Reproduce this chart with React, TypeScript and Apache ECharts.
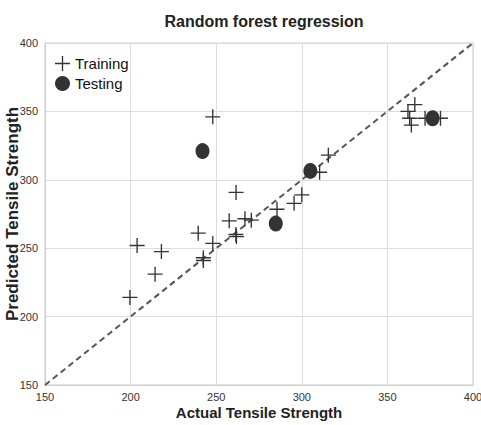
import React, { useEffect, useRef } from "react";
import * as echarts from "echarts";

const trainingActual = [199.6, 203.8, 218, 214.3, 239.5, 242.5, 242.5, 248, 248, 257.6, 261.6, 261.8, 261.5, 266.8, 270.5, 285.5, 295.5, 300, 310.4, 315.5, 366, 362, 363, 364, 372, 381];
const trainingPredicted = [214, 252, 247.5, 231, 261, 243, 241, 253.5, 346, 270, 290.8, 258.5, 260, 271.5, 270.5, 278.5, 282.8, 289, 305.5, 318, 355, 350, 345, 340, 345, 345];
const testingActual = [242, 284.8, 305, 376.4];
const testingPredicted = [321, 268, 306.5, 345];
const axisMin = 150;
const axisMax = 400;
const axisStep = 50;

const crossPath = "path://M0,4.55h10v0.9h-10z M4.55,0h0.9v10h-0.9z";

export default function App() {
  const ref = useRef<HTMLDivElement>(null);
  useEffect(() => {
    const chart = echarts.init(ref.current!, null, { renderer: "svg" });
    const axisCommon = {
      type: "value",
      min: axisMin,
      max: axisMax,
      interval: axisStep,
      axisLine: { show: true, lineStyle: { color: "#cccccc", width: 1 } },
      axisTick: { show: false },
      splitLine: { show: true, lineStyle: { color: "#dcdcdc", width: 1 } },
      axisLabel: { color: "#333", fontSize: 11, fontFamily: "Liberation Sans, Arial, sans-serif" },
      nameLocation: "middle",
      nameMoveOverlap: false,
      nameTextStyle: { color: "#222", fontSize: 15, fontWeight: "bold", fontFamily: "Liberation Sans, Arial, sans-serif" },
    };
    chart.setOption({
      animation: false,
      backgroundColor: "#ffffff",
      title: {
        text: "Random forest regression",
        left: 259,
        top: 8,
        textAlign: "center",
        textStyle: { color: "#222", fontSize: 16, fontWeight: "bold", fontFamily: "Liberation Sans, Arial, sans-serif" },
      },
      grid: { left: 45, top: 43, right: 8, bottom: 40, show: true, borderColor: "#cccccc", borderWidth: 1, outerBoundsMode: "none", containLabel: false },
      legend: {
        orient: "vertical",
        left: 50,
        top: 51,
        itemGap: 5,
        itemWidth: 15,
        itemHeight: 15,
        textStyle: { color: "#111", fontSize: 15, fontFamily: "Liberation Sans, Arial, sans-serif" },
        data: [
          { name: "Training", icon: crossPath },
          { name: "Testing", icon: "circle" },
        ],
      },
      xAxis: { ...axisCommon, name: "Actual Tensile Strength", nameGap: 20, axisLabel: { ...axisCommon.axisLabel, margin: 6 } },
      yAxis: {
        ...axisCommon,
        name: "Predicted Tensile Strength",
        nameGap: 24,
        nameTextStyle: { ...axisCommon.nameTextStyle, fontSize: 17 },
        axisLabel: { ...axisCommon.axisLabel, margin: 7 },
      },
      series: [
        {
          type: "line",
          data: [[axisMin, axisMin], [axisMax, axisMax]],
          symbol: "none",
          lineStyle: { color: "#555", width: 2, type: [6, 4] },
          silent: true,
          z: 1,
        },
        {
          name: "Training",
          type: "scatter",
          symbol: crossPath,
          symbolSize: 15,
          itemStyle: { color: "#333", opacity: 1 },
          data: trainingActual.map((x, i) => [x, trainingPredicted[i]]),
          z: 3,
        },
        {
          name: "Testing",
          type: "scatter",
          symbol: "circle",
          symbolSize: [14, 16],
          itemStyle: { color: "#333", opacity: 1 },
          data: testingActual.map((x, i) => [x, testingPredicted[i]]),
          z: 4,
        },
      ],
    });
    return () => chart.dispose();
  }, []);
  return <div ref={ref} style={{ width: 481, height: 425, position: "absolute", left: 0, top: 0 }} />;
}
